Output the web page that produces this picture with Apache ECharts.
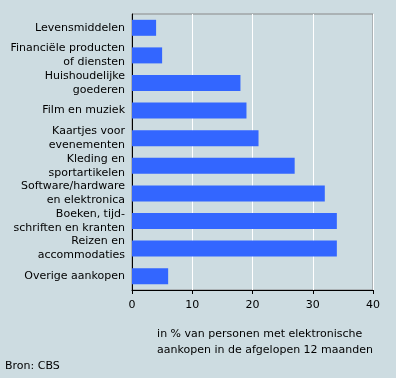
<!DOCTYPE html>
<html><head><meta charset="utf-8">
<script src="https://cdn.jsdelivr.net/npm/echarts@6/dist/echarts.min.js"></script>
<style>html,body{margin:0;padding:0;background:#cddce1;}#c{width:396px;height:378px;}</style>
</head><body><div id="c"></div>
<script>
const categories = [
  "Levensmiddelen",
  "Financiële producten\nof diensten",
  "Huishoudelijke\ngoederen",
  "Film en muziek",
  "Kaartjes voor\nevenementen",
  "Kleding en\nsportartikelen",
  "Software/hardware\nen elektronica",
  "Boeken, tijd-\nschriften en kranten",
  "Reizen en\naccommodaties",
  "Overige aankopen"
];
const values = [4, 5, 18, 19, 21, 27, 32, 34, 34, 6];
const xTicks = [0, 10, 20, 30, 40];
const axisTitle = "in % van personen met elektronische\naankopen in de afgelopen 12 maanden";
const source = "Bron: CBS";

const font = "DejaVu Sans";
const chart = echarts.init(document.getElementById('c'), null, {renderer: 'canvas'});
chart.setOption({
  backgroundColor: '#cddce1',
  animation: false,
  textStyle: {fontFamily: font},
  grid: {left: 132, right: 23, top: 14, bottom: 88, show: true, borderColor: '#888888', borderWidth: 1, containLabel: false},
  xAxis: {
    type: 'value', min: xTicks[0], max: xTicks[xTicks.length - 1], interval: 10,
    axisLine: {show: true, lineStyle: {color: '#000', width: 1}},
    axisTick: {show: true, length: 4, lineStyle: {color: '#000'}},
    axisLabel: {color: '#000', fontSize: 11, fontFamily: font, margin: 10},
    splitLine: {show: true, lineStyle: {color: '#ffffff', width: 1}}
  },
  yAxis: {
    type: 'category', data: categories, inverse: true,
    axisLine: {show: true, lineStyle: {color: '#000', width: 1}},
    axisTick: {show: false},
    axisLabel: {color: '#000', fontSize: 11, fontFamily: font, margin: 7, lineHeight: 14, align: 'right'},
    splitLine: {show: false}
  },
  series: [{
    type: 'bar', data: values, barWidth: 16,
    itemStyle: {color: '#3366ff'}
  }],
  graphic: [
    {type: 'text', right: 23, top: 326, style: {text: axisTitle, fontSize: 11, fontFamily: font, fill: '#000', align: 'right', lineHeight: 16}},
    {type: 'text', left: 5, top: 361, style: {text: source, fontSize: 11, fontFamily: font, fill: '#000'}}
  ]
});
</script></body></html>
